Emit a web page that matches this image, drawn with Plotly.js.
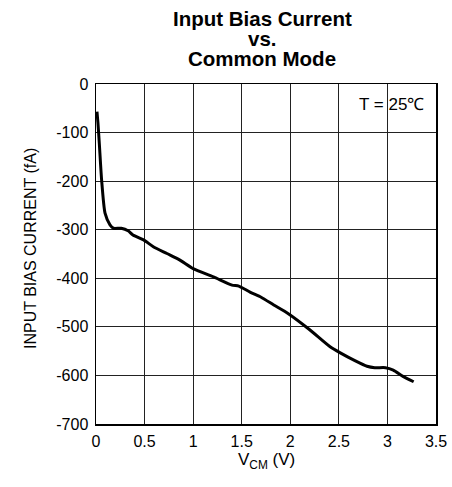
<!DOCTYPE html>
<html>
<head>
<meta charset="utf-8">
<script src="https://cdn.plot.ly/plotly-3.0.1.min.js"></script>
<style>html,body{margin:0;padding:0;background:#fff;}#chart{width:452px;height:487px;}</style>
</head>
<body>
<div id="chart"></div>
<script>
const vcm = [0.01, 0.02, 0.034, 0.058, 0.093, 0.144, 0.18, 0.26, 0.33, 0.38, 0.49, 0.59, 0.73, 0.86, 1.0, 1.21, 1.40, 1.47, 1.59, 1.70, 1.83, 1.98, 2.2, 2.41, 2.51, 2.67, 2.79, 2.87, 2.98, 3.06, 3.16, 3.27];
const ibias = [-57, -80, -122, -198, -266, -290, -297, -297, -302, -311, -321, -335, -349, -362, -380, -397, -414, -416, -429, -439, -455, -473, -506, -541, -553, -570, -581, -584, -584, -589, -602, -613];
const xTicks = [0, 0.5, 1, 1.5, 2, 2.5, 3, 3.5];
const xTickText = ['0', '0.5', '1', '1.5', '2', '2.5', '3', '3.5'];
const yTicks = [0, -100, -200, -300, -400, -500, -600, -700];
const yTickText = ['0', '-100', '-200', '-300', '-400', '-500', '-600', '-700'];
const titleLines = ['Input Bias Current', 'vs.', 'Common Mode'];
const xTitle = 'V<sub>CM</sub> (V)';
const yTitle = 'INPUT BIAS CURRENT (fA)';
const note = 'T = 25℃';

const font = 'Liberation Sans, Arial, sans-serif';
const H = 340; // plot size in px, for placing paper-relative text
const titleY = [18.5, 38.5, 58.5];
const annotations = titleLines.map((t, i) => ({
  text: '<b>' + t + '</b>', xref: 'paper', yref: 'paper', x: (262 - 96) / H, y: (424 - titleY[i]) / H,
  xanchor: 'center', yanchor: 'middle', showarrow: false,
  font: {family: font, size: 20.5, color: '#000'}
}));
annotations.push({
  text: xTitle, xref: 'paper', yref: 'paper', x: 0.5, y: -(461 - 424) / H,
  xanchor: 'center', yanchor: 'middle', showarrow: false,
  font: {family: font, size: 17, color: '#000'}
});
annotations.push({
  text: yTitle, xref: 'paper', yref: 'paper', x: (30 - 96) / H, y: (424 - 249) / H,
  xanchor: 'center', yanchor: 'middle', showarrow: false, textangle: -90,
  font: {family: font, size: 16, color: '#000'}
});
annotations.push({
  text: note, xref: 'x', yref: 'y', x: 3.04, y: -42, showarrow: false,
  xanchor: 'center', yanchor: 'middle',
  font: {family: font, size: 17, color: '#000'}
});

Plotly.newPlot('chart', [{
  x: vcm, y: ibias, type: 'scatter', mode: 'lines',
  line: {color: '#000', width: 3, shape: 'spline', smoothing: 0.6},
  hoverinfo: 'none'
}], {
  width: 452, height: 487,
  margin: {l: 96, r: 16, t: 84, b: 63},
  paper_bgcolor: '#fff', plot_bgcolor: '#fff',
  showlegend: false,
  xaxis: {
    range: [0, 3.5], tickvals: xTicks, ticktext: xTickText, showgrid: true, gridcolor: '#222', gridwidth: 1,
    zeroline: false, showline: true, linecolor: '#000', linewidth: 1.5, mirror: true, ticks: '',
    ticklabelstandoff: 2,
    tickfont: {family: font, size: 16, color: '#000'}
  },
  yaxis: {
    range: [-700, 0], tickvals: yTicks, ticktext: yTickText, showgrid: true, gridcolor: '#222', gridwidth: 1,
    zeroline: false, showline: true, linecolor: '#000', linewidth: 1.5, mirror: true, ticks: '',
    ticklabelstandoff: 3,
    tickfont: {family: font, size: 16, color: '#000'}
  },
  annotations: annotations
}, {staticPlot: true});
</script>
</body>
</html>
